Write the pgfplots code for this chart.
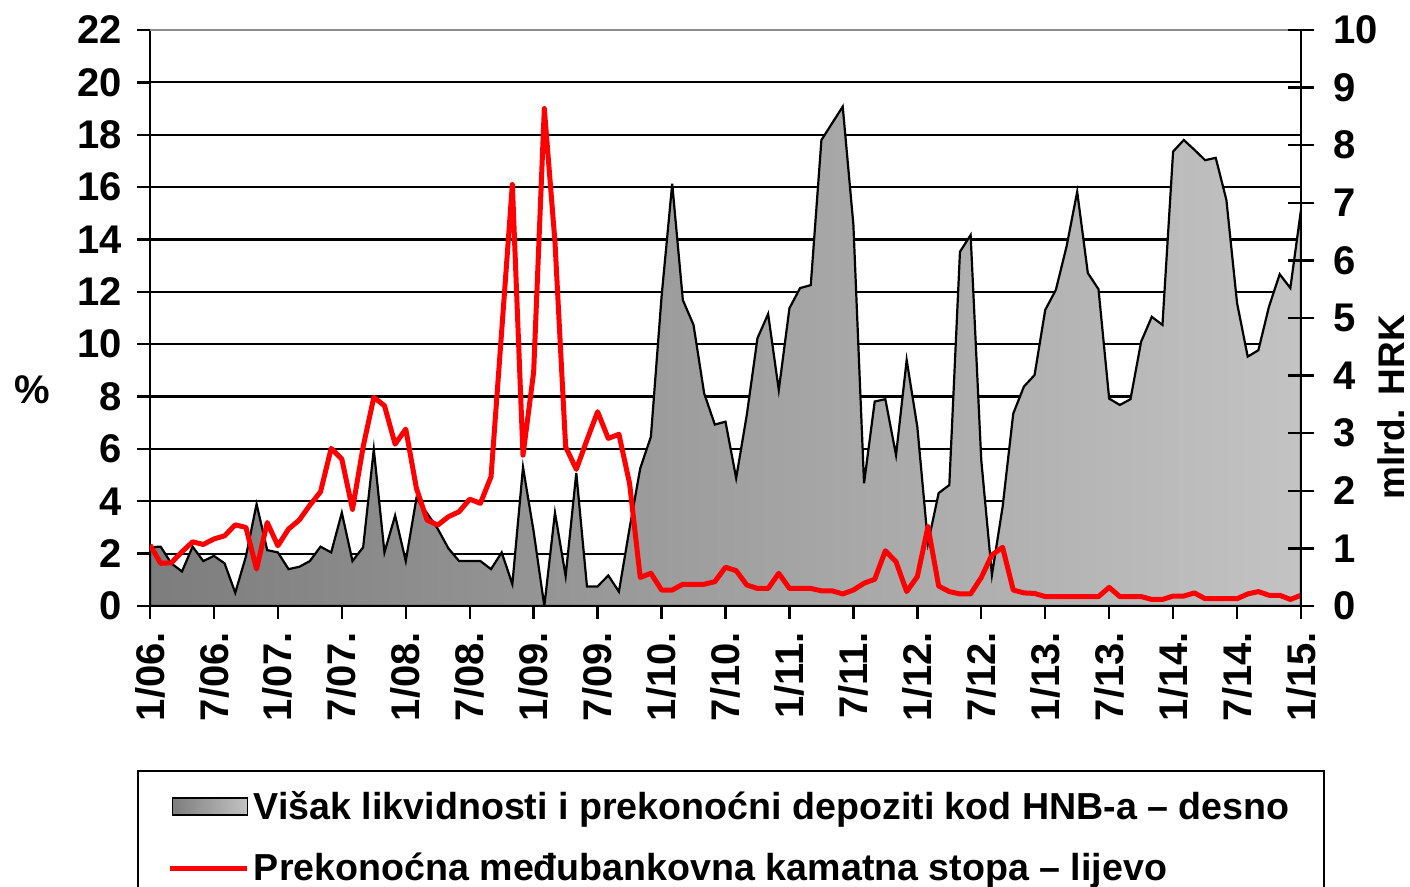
\documentclass[border=0pt]{standalone}
\usepackage{fontspec}
\setmainfont{Liberation Sans}
\usepackage{pgfplots}
\pgfplotsset{compat=1.18}
\usepackage{pgfplotstable}

\definecolor{areadark}{RGB}{125,125,125}
\definecolor{arealight}{RGB}{195,195,195}
\definecolor{topgray}{RGB}{140,140,140}

% Prekonocna medubankovna kamatna stopa (%), monthly from 1/06 (m=0) to 1/15 (m=108)
\pgfplotstableread{
m v
0 2.33
1 1.63
2 1.65
3 2.07
4 2.45
5 2.35
6 2.56
7 2.68
8 3.10
9 3.00
10 1.41
11 3.19
12 2.30
13 2.94
14 3.28
15 3.85
16 4.36
17 6.02
18 5.61
19 3.69
20 6.08
21 7.97
22 7.65
23 6.18
24 6.76
25 4.49
26 3.28
27 3.09
28 3.41
29 3.60
30 4.08
31 3.92
32 4.94
33 10.5
34 16.1
35 5.76
36 8.94
37 19.0
38 13.9
39 6.08
40 5.22
41 6.34
42 7.42
43 6.40
44 6.56
45 4.68
46 1.09
47 1.25
48 0.61
49 0.61
50 0.83
51 0.83
52 0.83
53 0.93
54 1.48
55 1.35
56 0.80
57 0.67
58 0.67
59 1.25
60 0.67
61 0.67
62 0.67
63 0.58
64 0.58
65 0.46
66 0.61
67 0.87
68 1.02
69 2.11
70 1.69
71 0.55
72 1.12
73 3.03
74 0.76
75 0.55
76 0.46
77 0.46
78 1.09
79 1.95
80 2.24
81 0.61
82 0.50
83 0.48
84 0.36
85 0.36
86 0.36
87 0.36
88 0.36
89 0.36
90 0.71
91 0.36
92 0.36
93 0.36
94 0.25
95 0.25
96 0.38
97 0.38
98 0.50
99 0.28
100 0.28
101 0.28
102 0.28
103 0.46
104 0.55
105 0.41
106 0.41
107 0.25
108 0.41
}\ratedata

% Visak likvidnosti i prekonocni depoziti kod HNB-a (mlrd. HRK)
\pgfplotstableread{
m v
0 1.02
1 1.03
2 0.74
3 0.60
4 1.03
5 0.78
6 0.87
7 0.74
8 0.23
9 0.86
10 1.77
11 0.97
12 0.93
13 0.64
14 0.68
15 0.78
16 1.03
17 0.93
18 1.62
19 0.78
20 1.02
21 2.72
22 0.93
23 1.57
24 0.78
25 1.87
26 1.61
27 1.34
28 1.00
29 0.78
30 0.78
31 0.78
32 0.64
33 0.93
34 0.38
35 2.41
36 1.29
37 0.00
38 1.62
39 0.52
40 2.31
41 0.34
42 0.34
43 0.53
44 0.25
45 1.35
46 2.39
47 2.94
48 5.37
49 7.33
50 5.31
51 4.88
52 3.69
53 3.15
54 3.20
55 2.22
56 3.32
57 4.65
58 5.07
59 3.75
60 5.17
61 5.52
62 5.57
63 8.09
64 8.38
65 8.67
66 6.62
67 2.13
68 3.55
69 3.59
70 2.62
71 4.27
72 3.11
73 1.09
74 1.96
75 2.10
76 6.15
77 6.44
78 2.53
79 0.54
80 1.72
81 3.34
82 3.81
83 4.01
84 5.14
85 5.49
86 6.24
87 7.19
88 5.78
89 5.50
90 3.60
91 3.49
92 3.59
93 4.59
94 5.02
95 4.88
96 7.89
97 8.09
98 7.92
99 7.74
100 7.78
101 7.05
102 5.26
103 4.33
104 4.44
105 5.20
106 5.76
107 5.52
108 6.88
}\liqdata

\begin{document}
\begin{tikzpicture}
\path[use as bounding box] (0,0) rectangle (705pt,443.5pt);
\begin{axis}[
  at={(75pt,140.5pt)}, anchor=south west,
  scale only axis, width=575.5pt, height=288pt,
  xmin=0, xmax=108, ymin=0, ymax=22,
  axis x line*=bottom, axis y line*=left,
  axis line style={line width=1.2pt, black},
  xtick={0,6,...,108},
  xticklabels={1/06.,7/06.,1/07.,7/07.,1/08.,7/08.,1/09.,7/09.,1/10.,7/10.,1/11.,7/11.,1/12.,7/12.,1/13.,7/13.,1/14.,7/14.,1/15.},
  xticklabel style={rotate=90, anchor=east, xshift=-3pt},
  ytick={0,2,...,20},
  extra y ticks={22},
  extra y tick style={grid style={topgray, line width=1.2pt}},
  ymajorgrids,
  grid style={black, line width=1.1pt},
  tick align=outside,
  major tick length=6.5pt,
  tick style={black, line width=1.2pt},
  tick label style={font=\fontsize{20}{24}\selectfont\bfseries},
  /pgf/number format/assume math mode=true,
  yticklabel style={xshift=-4pt},
  every axis y label/.style={at={(rel axis cs:-0.1025,0.375)}, anchor=center},
  ylabel={\fontsize{20}{24}\selectfont\bfseries\%},
  legend style={at={(-0.0113,-0.2847)}, anchor=north west, draw=black, line width=1pt,
    font=\fontsize{18.8}{22}\selectfont\bfseries, inner xsep=15pt, inner ysep=8pt,
    row sep=11.5pt, cells={anchor=west}},
  legend cell align=left,
]
\addplot[draw=black, line width=1.1pt, left color=areadark, right color=arealight,
  legend image code/.code={\draw[draw=black, line width=0.9pt, left color=areadark, right color=arealight] (0pt,-4.25pt) rectangle (37.5pt,4.25pt);}]
  table[x=m, y expr=\thisrow{v}*2.2] {\liqdata} \closedcycle;
\addlegendentry{Višak likvidnosti i prekonoćni depoziti kod HNB-a – desno}
\addplot[draw=red, line width=2.5pt, line join=round,
  legend image code/.code={\draw[red, line width=2.5pt] (-1pt,0pt) -- (37.5pt,0pt);}]
  table[x=m, y=v] {\ratedata};
\addlegendentry{Prekonoćna međubankovna kamatna stopa – lijevo}
\end{axis}
\begin{axis}[
  at={(75pt,140.5pt)}, anchor=south west,
  scale only axis, width=575.5pt, height=288pt,
  xmin=0, xmax=108, ymin=0, ymax=10,
  axis x line=none, axis y line*=right,
  axis line style={line width=1.2pt, black},
  ytick={0,1,...,10},
  tick align=center,
  major tick length=13pt,
  tick style={black, line width=1.2pt},
  tick label style={font=\fontsize{20}{24}\selectfont\bfseries},
  /pgf/number format/assume math mode=true,
  yticklabel style={xshift=6pt},
  every axis y label/.style={at={(rel axis cs:1.078,0.345)}, anchor=center, rotate=90},
  ylabel={\fontsize{18.5}{22}\selectfont\bfseries mlrd. HRK},
]
\addplot[draw=none] coordinates {(0,0)};
\end{axis}
\end{tikzpicture}
\end{document}
